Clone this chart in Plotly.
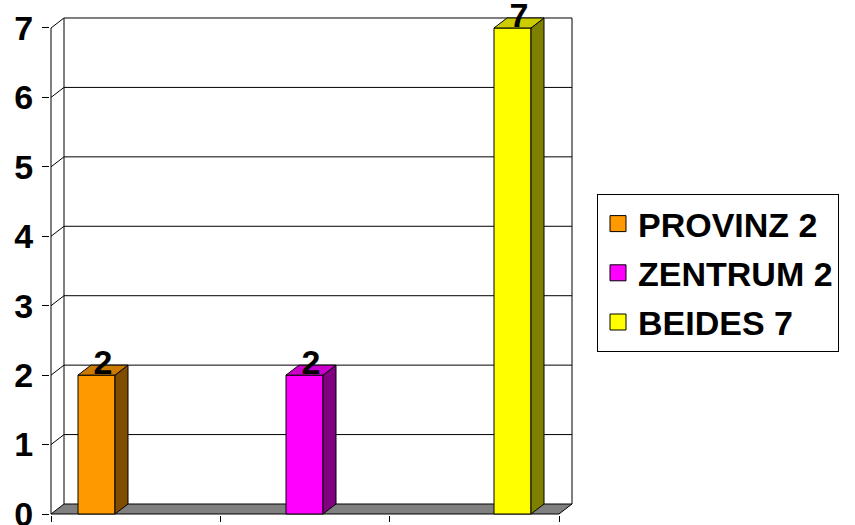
import plotly.graph_objects as go

# ---- data ----
categories = ["PROVINZ", "ZENTRUM", "BEIDES"]
values = [2, 2, 7]
legend_names = ["PROVINZ 2", "ZENTRUM 2", "BEIDES 7"]
front_colors = ["#FF9900", "#FF00FF", "#FFFF00"]
top_colors = ["#CC7A00", "#CC00CC", "#CCCC00"]
side_colors = ["#7F4C00", "#800080", "#808000"]
y_ticks = [0, 1, 2, 3, 4, 5, 6, 7]

# ---- layout geometry (pixel scale -> data units) ----
PXX = 208.0          # px per category step
PXY = 69.43          # px per value unit
BW = 37 / PXX        # bar width
DX = 13 / PXX        # 3D depth offset (x)
DY = 10 / PXY        # 3D depth offset (y)
XL = (51 - 96.5) / PXX          # front-left of floor
XR = XL + 508 / PXX             # front-right of floor
YMAX = max(y_ticks)
FONT = "Liberation Sans, Arial, sans-serif"

xs = list(range(len(categories)))

fig = go.Figure()

shapes = []
# floor
shapes.append(dict(type="path", xref="x", yref="y", layer="below",
                   path=f"M {XL},0 L {XR},0 L {XR+DX},{DY} L {XL+DX},{DY} Z",
                   fillcolor="#808080", line=dict(color="black", width=1)))
# back wall gridlines + side diagonals
for v in y_ticks:
    if v > 0:
        shapes.append(dict(type="line", xref="x", yref="y", layer="below",
                           x0=XL + DX, x1=XR + DX, y0=v + DY, y1=v + DY,
                           line=dict(color="black", width=1)))
        shapes.append(dict(type="line", xref="x", yref="y", layer="below",
                           x0=XL, x1=XL + DX, y0=v, y1=v + DY,
                           line=dict(color="black", width=1)))
# wall verticals and front axis
shapes.append(dict(type="line", xref="x", yref="y", layer="below",
                   x0=XL + DX, x1=XL + DX, y0=DY, y1=YMAX + DY,
                   line=dict(color="black", width=1)))
shapes.append(dict(type="line", xref="x", yref="y", layer="below",
                   x0=XR + DX, x1=XR + DX, y0=DY, y1=YMAX + DY,
                   line=dict(color="black", width=1)))
shapes.append(dict(type="line", xref="x", yref="y", layer="below",
                   x0=XL, x1=XL, y0=0, y1=YMAX,
                   line=dict(color="black", width=1)))

# front faces
fig.add_trace(go.Bar(x=xs, y=values, width=BW, marker=dict(color=front_colors,
                     line=dict(color="black", width=1)), showlegend=False,
                     hovertext=categories))

# side and top faces
for c, v, sc, tc in zip(xs, values, side_colors, top_colors):
    r = c + BW / 2
    l = c - BW / 2
    fig.add_trace(go.Scatter(x=[r, r + DX, r + DX, r, r], y=[0, DY, v + DY, v, 0],
                             fill="toself", fillcolor=sc, mode="lines",
                             line=dict(color="black", width=1),
                             showlegend=False, hoverinfo="skip"))
    fig.add_trace(go.Scatter(x=[l, l + DX, r + DX, r, l], y=[v, v + DY, v + DY, v, v],
                             fill="toself", fillcolor=tc, mode="lines",
                             line=dict(color="black", width=1),
                             showlegend=False, hoverinfo="skip"))

# value labels
fig.add_trace(go.Scatter(x=[c + DX / 2 for c in xs], y=[v + DY for v in values],
                         text=[str(v) for v in values], mode="text",
                         textposition="middle center",
                         textfont=dict(family=FONT, size=34, weight="bold", color="black"),
                         cliponaxis=False, showlegend=False, hoverinfo="skip"))

# legend entries
for n, col in zip(legend_names, front_colors):
    fig.add_trace(go.Scatter(x=[None], y=[None], mode="markers", name=n,
                             legendgroup=n,
                             marker=dict(symbol="square", size=16, color=col,
                                         line=dict(color="black", width=1))))

fig.update_layout(
    width=855, height=525,
    margin=dict(l=50, r=279, t=16, b=10, autoexpand=False),
    paper_bgcolor="white", plot_bgcolor="white",
    shapes=shapes,
    showlegend=True,
    legend=dict(xref="container", yref="container", x=597/855, y=1-194/525,
                xanchor="left", yanchor="top", tracegroupgap=2,
                bordercolor="black", borderwidth=1, bgcolor="white",
                font=dict(family=FONT, size=34, weight="bold", color="black")),
    xaxis=dict(range=[(50 - 96.5) / PXX, (576 - 96.5) / PXX],
               tickvals=[XL + k * (XR - XL) / 3 for k in range(4)],
               showticklabels=False, ticks="outside", ticklen=6, tickcolor="black",
               showgrid=False, zeroline=False, showline=False, fixedrange=True,
               automargin=False),
    yaxis=dict(range=[-1 / PXY, (514 - 16) / PXY],
               tickvals=y_ticks, ticks="outside", ticklen=7, tickcolor="black",
               ticklabeloverflow="allow", ticklabelstandoff=2,
               tickfont=dict(family=FONT, size=34, weight="bold", color="black"),
               showgrid=False, zeroline=False, showline=False, fixedrange=True,
               automargin=False),
)

fig.write_html("out.html", config={"displayModeBar": False},
               post_script="document.body.style.margin='0';")
